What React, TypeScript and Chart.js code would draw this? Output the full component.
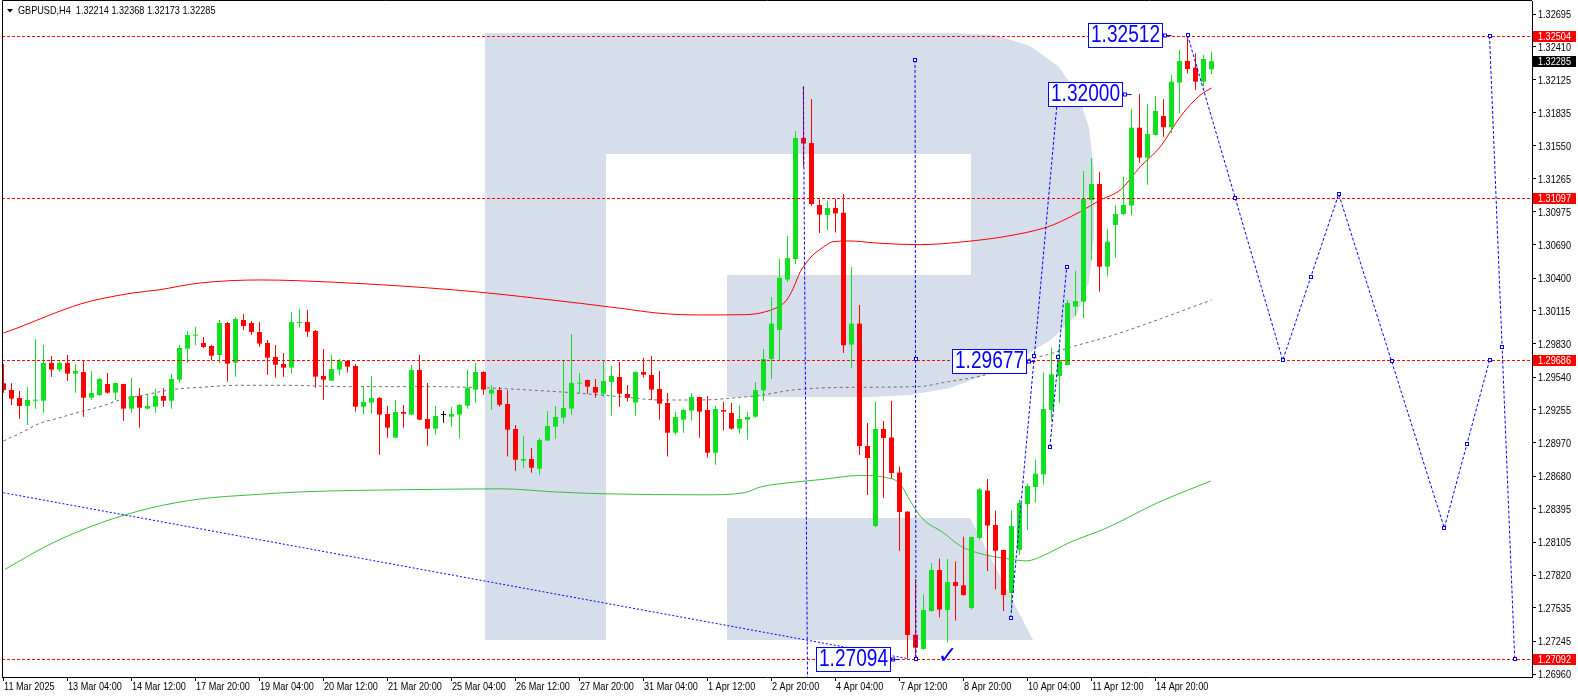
import React, { useEffect, useRef } from 'react';
import { Chart, registerables } from 'chart.js';

Chart.register(...registerables);

// ---------- data ----------
const symbol = 'GBPUSD,H4';

const opens = [
  1.29486,1.29428,1.29358,1.29289,1.29335,1.29335,1.29663,1.29605,1.29663,1.29570,
  1.29584,1.29361,1.29384,1.29480,1.29405,1.29480,1.29266,1.29376,1.29266,1.29283,
  1.29376,1.29335,1.29518,1.29787,1.29900,1.29836,1.29810,1.29732,1.30010,1.29665,
  1.30036,1.30010,1.29932,1.29836,1.29715,1.29654,1.29622,1.30010,1.30019,1.29941,
  1.29550,1.29509,1.29605,1.29680,1.29637,1.29283,1.29318,1.29358,1.29219,1.29014,
  1.29237,1.29214,1.29602,1.29176,1.29092,1.29211,1.29196,1.29214,1.29292,1.29431,
  1.29584,1.29396,1.29428,1.29306,1.29089,1.28814,1.28828,1.28744,1.28988,1.29109,
  1.29187,1.29266,1.29483,1.29515,1.29454,1.29396,1.29497,1.29541,1.29393,1.29318,
  1.29584,1.29558,1.29437,1.29315,1.29057,1.29170,1.29248,1.29367,1.29254,1.28883,
  1.29254,1.29228,1.29092,1.29170,1.29196,1.29424,1.29697,1.29949,1.30387,1.30566,
  1.31618,1.31574,1.31036,1.30949,1.31010,1.30969,1.29822,1.30005,1.28941,1.28246,
  1.29089,1.29015,1.28711,1.28371,1.27301,1.27177,1.27507,1.27864,1.27516,1.27759,
  1.27730,1.27533,1.28142,1.28554,1.28255,1.28038,1.27664,1.28038,1.28437,1.28585,
  1.28694,1.29254,1.29550,1.29645,1.30152,1.30195,1.31079,1.31218,1.30499,1.30862,
  1.30957,1.31030,1.31707,1.31447,1.31644,1.31809,1.31711,1.32098,1.32287,1.32229,
  1.32107,1.32214,
];
const highs = [
  1.29654,1.29486,1.29419,1.29454,1.29868,1.29819,1.29723,1.29689,1.29732,1.29654,
  1.29680,1.29593,1.29532,1.29576,1.29492,1.29483,1.29532,1.29445,1.29384,1.29437,
  1.29445,1.29567,1.29819,1.29941,1.29975,1.29889,1.29819,1.30036,1.30019,1.30062,
  1.30088,1.30028,1.30019,1.29862,1.29819,1.29750,1.30106,1.30132,1.30123,1.29949,
  1.29784,1.29732,1.29697,1.29689,1.29654,1.29454,1.29550,1.29367,1.29289,1.29341,
  1.29298,1.29645,1.29732,1.29489,1.29289,1.29245,1.29280,1.29306,1.29602,1.29663,
  1.29590,1.29471,1.29454,1.29428,1.29124,1.29028,1.28924,1.29011,1.29245,1.29289,
  1.29689,1.29915,1.29576,1.29518,1.29523,1.29680,1.29637,1.29671,1.29471,1.29590,
  1.29706,1.29723,1.29590,1.29402,1.29237,1.29263,1.29402,1.29370,1.29376,1.29289,
  1.29324,1.29315,1.29298,1.29237,1.29497,1.29784,1.30236,1.30566,1.30766,1.31679,
  1.32064,1.31957,1.31083,1.31070,1.31088,1.31131,1.30497,1.30167,1.29141,1.29324,
  1.29159,1.29335,1.28763,1.28375,1.27786,1.27651,1.27925,1.27964,1.27959,1.27937,
  1.28153,1.28155,1.28576,1.28655,1.28378,1.28040,1.28381,1.28475,1.28615,1.28825,
  1.29579,1.29798,1.29798,1.30210,1.30465,1.31331,1.31444,1.31325,1.30827,1.31036,
  1.31282,1.31870,1.32000,1.31913,1.31983,1.31954,1.32165,1.32383,1.32512,1.32354,
  1.32339,1.32368,
];
const lows = [
  1.29405,1.29298,1.29179,1.29124,1.29266,1.29231,1.29544,1.29587,1.29509,1.29405,
  1.29196,1.29344,1.29376,1.29396,1.29341,1.29161,1.29231,1.29101,1.29257,1.29231,
  1.29283,1.29266,1.29492,1.29663,1.29819,1.29793,1.29689,1.29663,1.29500,1.29544,
  1.29949,1.29906,1.29805,1.29561,1.29535,1.29544,1.29570,1.29970,1.29891,1.29448,
  1.29344,1.29505,1.29553,1.29579,1.29240,1.29214,1.29222,1.28866,1.29014,1.29010,
  1.29101,1.29210,1.29166,1.28944,1.29040,1.29144,1.29109,1.29005,1.29266,1.29318,
  1.29387,1.29257,1.29283,1.28849,1.28727,1.28753,1.28709,1.28692,1.28985,1.29005,
  1.29135,1.29214,1.29396,1.29396,1.29361,1.29370,1.29205,1.29283,1.29327,1.29205,
  1.29535,1.29344,1.29170,1.28849,1.29040,1.29057,1.29161,1.29014,1.28840,1.28779,
  1.29075,1.29083,1.29049,1.28996,1.29187,1.29332,1.29524,1.29689,1.30366,1.30523,
  1.31368,1.31027,1.30792,1.30818,1.30796,1.29749,1.29619,1.28863,1.28515,1.28237,
  1.28489,1.28659,1.28031,1.27094,1.27100,1.27170,1.27500,1.27452,1.27233,1.27426,
  1.27640,1.27520,1.28127,1.27855,1.27694,1.27507,1.27507,1.27994,1.28211,1.28449,
  1.28606,1.29159,1.29315,1.29640,1.30071,1.30054,1.30558,1.30282,1.30421,1.30578,
  1.30949,1.30949,1.31403,1.31212,1.31640,1.31629,1.31659,1.31832,1.32180,1.32035,
  1.32064,1.32173,
];
const closes = [
  1.29428,1.29353,1.29289,1.29341,1.29341,1.29663,1.29605,1.29663,1.29570,1.29593,
  1.29361,1.29402,1.29523,1.29405,1.29489,1.29266,1.29376,1.29274,1.29289,1.29376,
  1.29335,1.29523,1.29793,1.29906,1.29906,1.29802,1.29726,1.30010,1.29657,1.30045,
  1.29984,1.29932,1.29831,1.29709,1.29648,1.29622,1.30019,1.30019,1.29935,1.29544,
  1.29518,1.29610,1.29680,1.29631,1.29283,1.29324,1.29358,1.29214,1.29101,1.29237,
  1.29222,1.29602,1.29170,1.29092,1.29202,1.29211,1.29219,1.29298,1.29448,1.29584,
  1.29431,1.29431,1.29300,1.29083,1.28822,1.28828,1.28753,1.28993,1.29115,1.29193,
  1.29271,1.29489,1.29489,1.29457,1.29405,1.29506,1.29550,1.29396,1.29361,1.29584,
  1.29561,1.29431,1.29309,1.29057,1.29193,1.29254,1.29367,1.29240,1.28883,1.29263,
  1.29240,1.29092,1.29176,1.29193,1.29428,1.29697,1.30005,1.30404,1.30575,1.31618,
  1.31570,1.31044,1.30952,1.31010,1.30962,1.29816,1.30005,1.28941,1.28837,1.29089,
  1.29011,1.28707,1.28368,1.27299,1.27189,1.27516,1.27864,1.27520,1.27759,1.27725,
  1.27646,1.28150,1.28565,1.28250,1.28031,1.27646,1.28246,1.28446,1.28594,1.28702,
  1.29263,1.29564,1.29689,1.30184,1.30201,1.31088,1.31218,1.30499,1.30717,1.30957,
  1.31036,1.31707,1.31447,1.31653,1.31852,1.31711,1.32107,1.32287,1.32217,1.32107,
  1.32304,1.32285,
];

const xTickBars = [0, 8, 16, 24, 32, 40, 48, 56, 64, 72, 80, 88, 96, 104, 112, 120, 128, 136, 144];
const xTickLabels = [
  '11 Mar 2025', '13 Mar 04:00', '14 Mar 12:00', '17 Mar 20:00', '19 Mar 04:00', '20 Mar 12:00',
  '21 Mar 20:00', '25 Mar 04:00', '26 Mar 12:00', '27 Mar 20:00', '31 Mar 04:00', '1 Apr 12:00',
  '2 Apr 20:00', '4 Apr 04:00', '7 Apr 12:00', '8 Apr 20:00', '10 Apr 04:00', '11 Apr 12:00', '14 Apr 20:00',
];
const yTickValues = [
  1.32695, 1.32410, 1.32125, 1.31835, 1.31550, 1.31265, 1.30975, 1.30690, 1.30400, 1.30115, 1.29830,
  1.29540, 1.29255, 1.28970, 1.28680, 1.28395, 1.28105, 1.27820, 1.27535, 1.27245, 1.26960,
];

// moving averages: [bar, price]
const redMA: [number, number][] = [
  [0, 1.29923], [2.06, 1.29975], [5.8, 1.30080], [9.6, 1.30175], [12.1, 1.30219], [16.2, 1.30271],
  [19.3, 1.30297], [24.6, 1.30358], [32.3, 1.30384], [40.8, 1.30366], [49.6, 1.30332], [56.4, 1.30297],
  [62.1, 1.30260], [67.1, 1.30221], [72.1, 1.30181], [77.1, 1.30138], [82.1, 1.30094], [87.1, 1.30080],
  [92.1, 1.30082], [94.6, 1.30097], [97.1, 1.30161], [97.9, 1.30210], [98.7, 1.30309], [99.6, 1.30456],
  [100.4, 1.30538], [101.2, 1.30603], [102.1, 1.30651], [102.9, 1.30690], [103.7, 1.30717], [105.8, 1.30723],
  [108.7, 1.30707], [111.2, 1.30697], [114.6, 1.30691], [120.3, 1.30718], [125.3, 1.30763], [130.4, 1.30842],
  [132.1, 1.30890], [134.6, 1.30977], [137.1, 1.31079], [139.6, 1.31166], [142.1, 1.31368], [144.6, 1.31542],
  [147.1, 1.31803], [149.6, 1.31991], [151, 1.32052],
];
const grayMA: [number, number][] = [
  [0, 1.28985], [2.06, 1.29052], [4.56, 1.29139], [7.06, 1.29187], [9.56, 1.29239], [12.06, 1.29283],
  [14.56, 1.29341], [17.06, 1.29376], [19.56, 1.29413], [22.06, 1.29439], [24.56, 1.29451], [29.56, 1.29469],
  [34.9, 1.29469], [43.3, 1.29457], [51.7, 1.29457], [59.9, 1.29448], [67.1, 1.29422], [72.1, 1.29399],
  [77.1, 1.29370], [82.1, 1.29341], [87.1, 1.29341], [92.1, 1.29364], [94.6, 1.29382], [98.7, 1.29428],
  [104.6, 1.29450], [114.6, 1.29459], [117.4, 1.29491], [123.3, 1.29570], [127.4, 1.29680], [130.8, 1.29741],
  [133.3, 1.29798], [138, 1.29889], [144.2, 1.30036], [151, 1.30210],
];
const greenMA: [number, number][] = [
  [0.2, 1.27870], [5.85, 1.28089], [12.1, 1.28272], [18.4, 1.28403], [24.7, 1.28482], [31, 1.28517],
  [37.3, 1.28543], [49.9, 1.28561], [62.4, 1.28569], [68.75, 1.28543], [75.1, 1.28526], [87.6, 1.28517],
  [92.6, 1.28535], [94.6, 1.28585], [98.7, 1.28626], [102.1, 1.28649], [107.1, 1.28685], [110.4, 1.28666],
  [112.1, 1.28611], [113.3, 1.28468], [114.9, 1.28308], [117.4, 1.28191], [119.6, 1.28074], [121.6, 1.28016],
  [125.8, 1.27958], [127.9, 1.27943], [129.9, 1.27987], [133.3, 1.28104], [137.9, 1.28229], [144.2, 1.28446],
  [150.9, 1.28637],
];

// horizontal price levels (red dashed) and price labels
const levelPrices = [1.32504, 1.31097, 1.29686, 1.27092];
const labelBars = [146, 141, 129, 112];
const labelPrices = [1.32512, 1.32000, 1.29677, 1.27094];
const checkBar = 118;
const checkPrice = 1.27112;

// blue drawn lines: [bar, price]
const trendLine: [number, number][] = [[0, 1.28535], [113, 1.27094]];
const plainLine: [number, number][] = [[99.98, 1.32064], [100.5, 1.2690]];
const markedLines: [number, number][][] = [
  [[113.94, 1.32296], [114.06, 1.27092]],
  [[125.9, 1.27447], [131.8, 1.32000]],
  [[130.8, 1.28933], [132.9, 1.30497]],
  [[148, 1.32512], [159.9, 1.29686], [166.9, 1.31130], [180.1, 1.28229], [185.75, 1.29686]],
  [[185.75, 1.32504], [188.9, 1.27092]],
];

// visible window
const X_MIN = -0.1875;
const X_MAX = 191.06;
const Y_MIN = 1.26934;
const Y_MAX = 1.32808;

// ---------- styles ----------
const FONT = '"Liberation Sans", Arial, sans-serif';
const NARROW = 0.83; // horizontal squeeze to mimic the terminal's narrow font
const GREEN = '#10e020';
const RED = '#ff0000';
const BLUE = '#0000ff';
const LOGO_COLOR = '#d5deea';

// watermark logo outline (chart pixels)
const logoOuter = [
  [485, 33], [955, 33], [995, 35], [1030, 46], [1058, 66], [1078, 94], [1089, 128], [1094, 170],
  [1094, 235], [1089, 282], [1077, 314], [1052, 339], [1023, 357], [990, 373], [950, 388], [910, 395],
  [870, 397], [727, 397], [727, 275], [606, 275], [606, 640], [485, 640],
];
const logoHole = [[606, 154], [971, 154], [971, 275], [606, 275]];
const logoLeg = [[727, 518], [970, 518], [1033, 640], [727, 640]];

const toXY = (arr: [number, number][]) => arr.map(([x, y]) => ({ x, y }));

const idx = opens.map((_, i) => i);
const candleColors = idx.map((i) =>
  closes[i] > opens[i] ? GREEN : closes[i] < opens[i] ? RED : '#000000'
);

function narrowText(ctx: CanvasRenderingContext2D, text: string, x: number, y: number, size: number, color: string, align: CanvasTextAlign = 'left') {
  ctx.save();
  ctx.translate(x, y);
  ctx.scale(NARROW, 1);
  ctx.font = `${size}px ${FONT}`;
  ctx.fillStyle = color;
  ctx.textAlign = align;
  ctx.textBaseline = 'middle';
  ctx.fillText(text, 0, 0);
  ctx.restore();
}

const logoPlugin = {
  id: 'logoPlugin',
  beforeDatasetsDraw(chart: any) {
    const { ctx, chartArea: a } = chart;
    const ox = a.left - 2;
    const oy = a.top - 1;
    ctx.save();
    ctx.beginPath();
    ctx.rect(a.left, a.top, a.right - a.left, a.bottom - a.top);
    ctx.clip();
    const poly = (pts: number[][], color: string) => {
      ctx.beginPath();
      pts.forEach(([x, y], k) => (k ? ctx.lineTo(x + ox, y + oy) : ctx.moveTo(x + ox, y + oy)));
      ctx.closePath();
      ctx.fillStyle = color;
      ctx.fill();
    };
    poly(logoOuter, LOGO_COLOR);
    poly(logoHole, '#ffffff');
    poly(logoLeg, LOGO_COLOR);
    ctx.restore();
  },
};

const overlayPlugin = {
  id: 'overlayPlugin',
  afterDatasetsDraw(chart: any) {
    const { ctx, chartArea: a, scales } = chart;
    const xs = scales.x;
    const ys = scales.y;
    ctx.save();
    ctx.beginPath();
    ctx.rect(a.left, a.top, a.right - a.left, a.bottom - a.top);
    ctx.clip();

    // red dashed levels
    ctx.strokeStyle = RED;
    ctx.lineWidth = 1;
    ctx.setLineDash([3, 2]);
    levelPrices.forEach((p) => {
      const y = Math.round(ys.getPixelForValue(p)) + 0.5;
      ctx.beginPath();
      ctx.moveTo(a.left, y);
      ctx.lineTo(a.right, y);
      ctx.stroke();
    });
    ctx.setLineDash([]);

    // markers on blue lines (ends and midpoints)
    const marker = (x: number, y: number) => {
      ctx.fillStyle = '#ffffff';
      ctx.fillRect(Math.round(x) - 2, Math.round(y) - 2, 4, 4);
      ctx.strokeStyle = BLUE;
      ctx.strokeRect(Math.round(x) - 1.5, Math.round(y) - 1.5, 3, 3);
    };
    markedLines.forEach((line) => {
      const pts = line.map(([b, p]) => [xs.getPixelForValue(b), ys.getPixelForValue(p)]);
      pts.forEach(([x, y], k) => {
        marker(x, y);
        if (k > 0) marker((x + pts[k - 1][0]) / 2, (y + pts[k - 1][1]) / 2);
      });
    });

    // price labels
    labelPrices.forEach((p, k) => {
      const ax = xs.getPixelForValue(labelBars[k]);
      const ay = ys.getPixelForValue(p);
      const right = Math.round(ax - 10);
      const left = right - 74;
      const top = Math.round(ay - 12);
      ctx.fillStyle = '#ffffff';
      ctx.fillRect(left, top, 74, 24);
      ctx.strokeStyle = BLUE;
      ctx.lineWidth = 1;
      ctx.strokeRect(left + 0.5, top + 0.5, 74, 24);
      narrowText(ctx, p.toFixed(5), left + 3, top + 13, 23, BLUE);
      const cy = Math.round(ay) + 0.5;
      ctx.strokeStyle = BLUE;
      ctx.strokeRect(right + 1.5, cy - 1.5, 3, 3);
      ctx.beginPath();
      ctx.moveTo(right + 4.5, cy);
      ctx.lineTo(ax, cy);
      ctx.stroke();
    });

    // check mark
    ctx.fillStyle = BLUE;
    ctx.font = 'bold 24px "DejaVu Sans", sans-serif';
    ctx.textAlign = 'center';
    ctx.textBaseline = 'middle';
    ctx.fillText('\u2713', xs.getPixelForValue(checkBar), ys.getPixelForValue(checkPrice));
    ctx.restore();
  },
  afterDraw(chart: any) {
    const { ctx, chartArea: a, scales } = chart;
    const xs = scales.x;
    const ys = scales.y;
    ctx.save();
    // frame
    ctx.strokeStyle = '#000000';
    ctx.lineWidth = 1;
    ctx.beginPath();
    ctx.moveTo(a.left + 0.5, a.bottom);
    ctx.lineTo(a.left + 0.5, 0.5);
    ctx.lineTo(a.right, 0.5);
    ctx.stroke();

    // axis labels
    yTickValues.forEach((v) => {
      narrowText(ctx, v.toFixed(5), a.right + 6, Math.round(ys.getPixelForValue(v)) + 0.5, 11, '#000000');
    });
    xTickBars.forEach((b, k) => {
      narrowText(ctx, xTickLabels[k], Math.round(xs.getPixelForValue(b)), a.bottom + 10, 11, '#000000');
    });

    // right axis tags
    const tag = (p: number, bg: string) => {
      const y = Math.round(ys.getPixelForValue(p));
      ctx.fillStyle = bg;
      ctx.fillRect(a.right + 1, y - 5, 43, 11);
      narrowText(ctx, p.toFixed(5), a.right + 6, y + 0.5, 11, '#ffffff');
    };
    levelPrices.forEach((p) => tag(p, '#ff0000'));
    tag(closes[closes.length - 1], '#000000');

    // header
    const last = closes.length - 1;
    ctx.fillStyle = '#000000';
    ctx.beginPath();
    ctx.moveTo(7, 9);
    ctx.lineTo(13, 9);
    ctx.lineTo(10, 12.5);
    ctx.closePath();
    ctx.fill();
    const txt = `${symbol}  ${opens[last].toFixed(5)} ${highs[last].toFixed(5)} ${lows[last].toFixed(5)} ${closes[last].toFixed(5)}`;
    narrowText(ctx, txt, 18, 11, 11, '#000000');
    ctx.restore();
  },
};

export default function App() {
  const ref = useRef<HTMLCanvasElement>(null);
  useEffect(() => {
    document.body.style.margin = '0';
    const canvas = ref.current;
    if (!canvas) return;
    const lineDs = (data: [number, number][], color: string, extra: any = {}) => ({
      type: 'line' as const,
      data: toXY(data),
      borderColor: color,
      borderWidth: 1,
      pointRadius: 0,
      fill: false,
      ...extra,
    });
    const chart = new Chart(canvas, {
      type: 'bar',
      data: {
        datasets: [
          ...markedLines.map((l) => lineDs(l, BLUE, { borderDash: [3, 2], tension: 0, order: 0 })),
          lineDs(plainLine, BLUE, { borderDash: [3, 2], tension: 0, order: 0 }),
          lineDs(trendLine, BLUE, { borderDash: [2, 2], tension: 0, order: 0 }),
          {
            type: 'bar' as const,
            data: idx.map((i) => ({ x: i, y: [opens[i], closes[i]] })) as any,
            backgroundColor: candleColors,
            barThickness: 5,
            minBarLength: 1,
            grouped: false,
            borderWidth: 0,
            inflateAmount: 0,
            order: 2,
          },
          {
            type: 'bar' as const,
            data: idx.map((i) => ({ x: i, y: [lows[i], highs[i]] })) as any,
            backgroundColor: candleColors,
            barThickness: 1,
            grouped: false,
            borderWidth: 0,
            inflateAmount: 0,
            order: 3,
          },
          lineDs(redMA, '#ff0000', { cubicInterpolationMode: 'monotone', order: 4 }),
          lineDs(grayMA, '#6e6e6e', { cubicInterpolationMode: 'monotone', borderDash: [3, 3], order: 4 }),
          lineDs(greenMA, '#3cbc3c', { cubicInterpolationMode: 'monotone', order: 4 }),
        ] as any,
      },
      options: {
        animation: false,
        responsive: false,
        maintainAspectRatio: false,
        devicePixelRatio: 1,
        events: [],
        layout: { padding: { left: 2, top: 1, right: 0, bottom: 0 } },
        plugins: { legend: { display: false }, tooltip: { enabled: false } },
        scales: {
          x: {
            type: 'linear',
            min: X_MIN,
            max: X_MAX,
            bounds: 'data',
            offset: false,
            grid: { drawOnChartArea: false, drawTicks: true, tickLength: 4, color: '#000', tickColor: '#000', offset: false },
            border: { display: true, color: '#000' },
            afterBuildTicks: (axis: any) => {
              axis.ticks = xTickBars.map((v) => ({ value: v }));
            },
            afterFit: (axis: any) => {
              axis.height = 21;
            },
            ticks: { display: false, autoSkip: false, maxRotation: 0, minRotation: 0 },
          },
          y: {
            type: 'linear',
            position: 'right',
            min: Y_MIN,
            max: Y_MAX,
            bounds: 'data',
            grid: { drawOnChartArea: false, drawTicks: true, tickLength: 4, color: '#000', tickColor: '#000' },
            border: { display: true, color: '#000' },
            afterBuildTicks: (axis: any) => {
              axis.ticks = yTickValues.map((v) => ({ value: v }));
            },
            afterFit: (axis: any) => {
              axis.width = 46;
            },
            ticks: { display: false, autoSkip: false },
          },
        },
      } as any,
      plugins: [logoPlugin, overlayPlugin],
    });
    return () => chart.destroy();
  }, []);
  return (
    <canvas
      ref={ref}
      width={1578}
      height={698}
      style={{ display: 'block', width: '1578px', height: '698px' }}
    />
  );
}
